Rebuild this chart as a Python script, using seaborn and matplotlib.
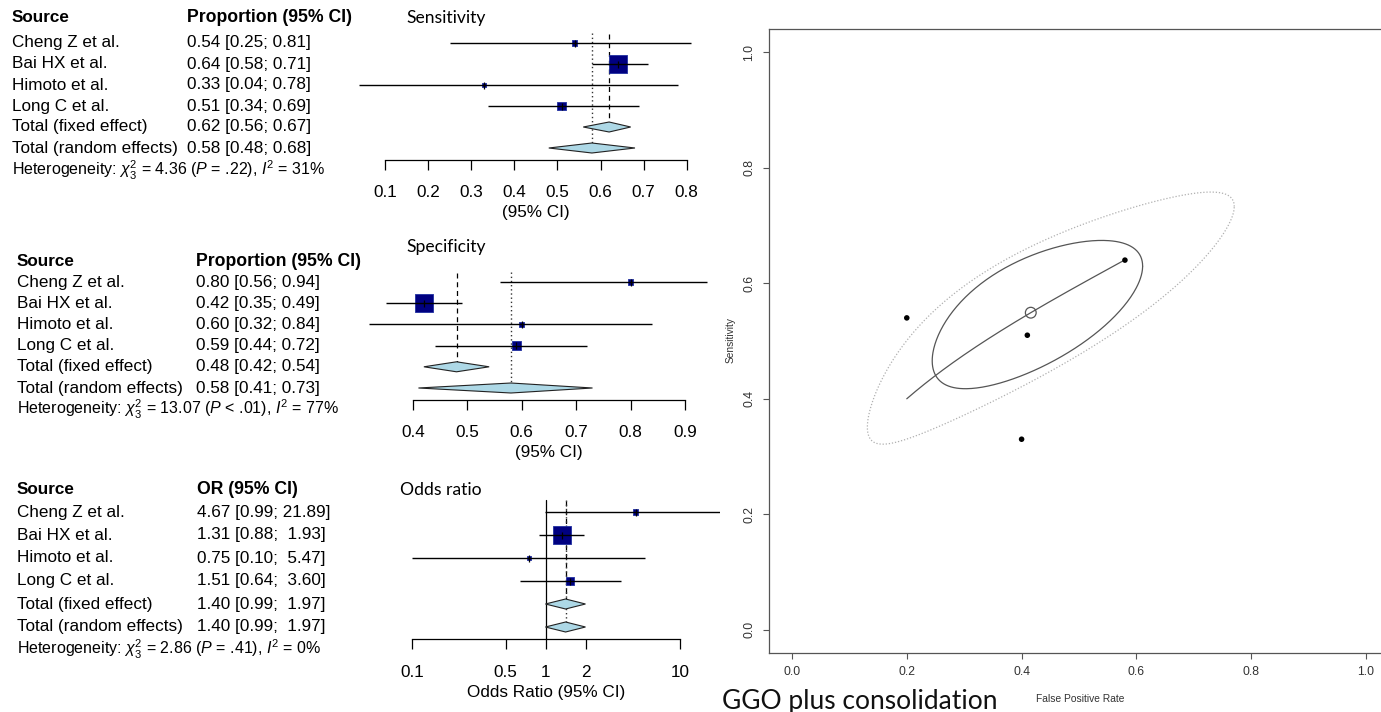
import numpy as np
import pandas as pd
import matplotlib
matplotlib.use("Agg")
import matplotlib.pyplot as plt
import seaborn as sns
from matplotlib.patches import Polygon
from matplotlib.transforms import Affine2D

sns.set_theme(style="white")
plt.rcParams['font.family'] = ['Liberation Sans', 'DejaVu Sans']
plt.rcParams['mathtext.fontset'] = 'custom'
plt.rcParams['mathtext.rm'] = 'Liberation Sans'
plt.rcParams['mathtext.it'] = 'Liberation Sans:italic'
plt.rcParams['text.color'] = 'black'
plt.rcParams['axes.labelcolor'] = 'black'
plt.rcParams['xtick.color'] = 'black'
plt.rcParams['ytick.color'] = 'black'

# ---------------- data ----------------
studies = ["Cheng Z et al.", "Bai HX et al.", "Himoto et al.", "Long C et al."]

sens_est = [0.54, 0.64, 0.33, 0.51]
sens_lo = [0.25, 0.58, 0.04, 0.34]
sens_hi = [0.81, 0.71, 0.78, 0.69]
sens_w = [7, 73, 4, 16]
sens_fixed = [0.62, 0.56, 0.67]
sens_random = [0.58, 0.48, 0.68]
sens_het = r"Heterogeneity: $\chi^2_3$ = 4.36 ($P$ = .22), $I^2$ = 31%"
sens_ticks = [0.1, 0.2, 0.3, 0.4, 0.5, 0.6, 0.7, 0.8]

spec_est = [0.80, 0.42, 0.60, 0.59]
spec_lo = [0.56, 0.35, 0.32, 0.44]
spec_hi = [0.94, 0.49, 0.84, 0.72]
spec_w = [6, 72, 6, 18]
spec_fixed = [0.48, 0.42, 0.54]
spec_random = [0.58, 0.41, 0.73]
spec_het = r"Heterogeneity: $\chi^2_3$ = 13.07 ($P$ < .01), $I^2$ = 77%"
spec_ticks = [0.4, 0.5, 0.6, 0.7, 0.8, 0.9]

or_est = [4.67, 1.31, 0.75, 1.51]
or_lo = [0.99, 0.88, 0.10, 0.64]
or_hi = [21.89, 1.93, 5.47, 3.60]
or_w = [6, 76, 4, 14]
or_fixed = [1.40, 0.99, 1.97]
or_random = [1.40, 0.99, 1.97]
or_het = r"Heterogeneity: $\chi^2_3$ = 2.86 ($P$ = .41), $I^2$ = 0%"
or_ticks = [0.1, 0.5, 1, 2, 10]
or_ticklabels = ["0.1", "0.5", "1", "2", "10"]

# SROC (bivariate) data
fpr = [1 - s for s in spec_est]
sroc_sens = sens_est
summary_fpr = 0.416
summary_sens = 0.549
sroc_slope = 0.575            # slope of SROC line in logit space
conf_sd = [0.79, 0.53, 0.63]  # logit half-extent FPR, sens, correlation
pred_sd = [1.55, 0.944, 0.86]

# ---------------- figure ----------------
W, H = 1381, 712
fig = plt.figure(figsize=(W / 100, H / 100), dpi=100)
pix = Affine2D().scale(1 / W, -1 / H).translate(0, 1) + fig.transFigure

TABLE_FS = 12.3
HET_FS = 11.5
TITLE_FONT = ['Lato', 'DejaVu Sans']

NAVY = '#000080'


def ptext(x, y, s, **kw):
    kw.setdefault('va', 'center')
    kw.setdefault('ha', 'left')
    kw.setdefault('color', 'black')
    return fig.text(x, y, s, transform=pix, **kw)


def forest(est, lo, hi, w, fixed, random, het, ticks, ticklabels, header2,
           title, xlabel, src_x, ci_x, y_head, y0, dy, y_het, y_title, title_x,
           y_axis, y_top, p0, v0, k, log, label_pad, xlabel_y, ci_width, show_null):
    # table text
    ptext(src_x, y_head, "Source", fontsize=TABLE_FS, fontweight='bold')
    ptext(ci_x, y_head, header2, fontsize=TABLE_FS + 0.4, fontweight='bold')
    rows = [y0 + i * dy for i in range(6)]
    labels = studies + ["Total (fixed effect)", "Total (random effects)"]
    vals = list(zip(est, lo, hi)) + [tuple(fixed), tuple(random)]
    for yy, lab, (e, l, h) in zip(rows, labels, vals):
        ptext(src_x, yy, lab, fontsize=TABLE_FS)
        ptext(ci_x, yy, f"{e:.2f} [{l:.2f}; {h:{ci_width}.2f}]", fontsize=TABLE_FS)
    ptext(src_x, y_het, het, fontsize=HET_FS)
    ptext(title_x, y_title, title, fontsize=12.6, family=TITLE_FONT)

    xL, xR = 350, 720
    ax = fig.add_axes([xL / W, 1 - y_axis / H, (xR - xL) / W, (y_axis - y_top) / H])
    if log:
        lv = np.log10(v0)
        ax.set_xscale('log')
        ax.set_xlim(10 ** (lv + (xL - p0) / k), 10 ** (lv + (xR - p0) / k))
    else:
        ax.set_xlim(v0 + (xL - p0) / k, v0 + (xR - p0) / k)
    ax.set_ylim(y_axis, y_top)
    ax.patch.set_alpha(0)
    for sname in ['top', 'right', 'left']:
        ax.spines[sname].set_visible(False)
    ax.spines['bottom'].set_bounds(ticks[0], ticks[-1])
    ax.spines['bottom'].set_color('black')
    ax.spines['bottom'].set_linewidth(0.9)
    ax.set_xticks(ticks)
    ax.set_xticklabels(ticklabels)
    ax.minorticks_off()
    ax.tick_params(axis='x', direction='out', length=7.2, width=0.9, color='black',
                   bottom=True, labelsize=TABLE_FS, pad=label_pad, labelcolor='black')
    ax.set_yticks([])

    # reference lines
    if show_null:
        ax.plot([1, 1], [y_top + 3, y_axis], color='black', lw=0.9, zorder=1)
    ax.plot([fixed[0]] * 2, [y_top + 4, rows[4] - 5], color='black', lw=0.9,
            ls=(0, (4, 3)), zorder=1)
    ax.plot([random[0]] * 2, [y_top + 3, rows[5] - 2], color='#333333', lw=1.0,
            ls=(0, (1, 2)), zorder=1)

    # study squares (area proportional to weight)
    df = pd.DataFrame({'est': est, 'y': rows[:4], 'w': w})
    smax = (18 * 0.72) ** 2
    sns.scatterplot(data=df, x='est', y='y', size='w', sizes=(0, smax),
                    size_norm=(0, max(w) * 0.97), marker='s', color=NAVY,
                    edgecolor='#2030a0', linewidth=0.6, legend=False, ax=ax, zorder=2)
    ax.hlines(rows[:4], lo, hi, color='black', lw=1.0, zorder=3)
    ax.vlines(est, [r - 3.5 for r in rows[:4]], [r + 3.5 for r in rows[:4]],
              color='black', lw=0.9, zorder=3)

    # diamonds
    for (e, l, h), yy in zip([fixed, random], rows[4:]):
        ax.add_patch(Polygon([(l, yy), (e, yy - 5), (h, yy), (e, yy + 5)],
                             closed=True, facecolor='lightblue', edgecolor='#222222',
                             lw=0.8, zorder=2))
    ax.set_xlabel('')
    ax.set_ylabel('')
    # x label centered under the tick range
    if log:
        xc = 10 ** ((np.log10(ticks[0]) + np.log10(ticks[-1])) / 2)
    else:
        xc = (ticks[0] + ticks[-1]) / 2
    ax.text(xc, xlabel_y, xlabel, ha='center', va='center', fontsize=TABLE_FS,
            clip_on=False, color='black')
    return ax


forest(sens_est, sens_lo, sens_hi, sens_w, sens_fixed, sens_random, sens_het,
       sens_ticks, [f"{t:.1f}" for t in sens_ticks], "Proportion (95% CI)",
       "Sensitivity", "(95% CI)", 12, 187, 18, 43, 21, 170, 18, 406,
       160, 30, 385, 0.1, 431, False, 11, 212, '', False)

forest(spec_est, spec_lo, spec_hi, spec_w, spec_fixed, spec_random, spec_het,
       spec_ticks, [f"{t:.1f}" for t in spec_ticks], "Proportion (95% CI)",
       "Specificity", "(95% CI)", 17, 196, 261, 282, 21.2, 409, 247, 406,
       400, 269, 413, 0.4, 544, False, 10.5, 453, '', False)

forest(or_est, or_lo, or_hi, or_w, or_fixed, or_random, or_het,
       or_ticks, or_ticklabels, "OR (95% CI)",
       "Odds ratio", "Odds Ratio (95% CI)", 17, 197, 490, 512, 23, 649, 490, 400,
       639, 497, 546, 1.0, 134, True, 11.5, 693, '5', True)

# ---------------- SROC plot ----------------
ax = fig.add_axes([769 / W, 1 - 653 / H, (1389 - 769) / W, (653 - 29) / H])
ax.set_xlim(-0.04, 1.04)
ax.set_ylim(-0.04, 1.04)
for sname, sp in ax.spines.items():
    sp.set_color('#555555')
    sp.set_linewidth(0.9)
    sp.set_visible(True)
tk = [0.0, 0.2, 0.4, 0.6, 0.8, 1.0]
ax.set_xticks(tk)
ax.set_yticks(tk)
ax.set_xticklabels([f"{t:.1f}" for t in tk])
ax.set_yticklabels([f"{t:.1f}" for t in tk], rotation=90, va='center')
ax.tick_params(axis='both', direction='out', length=4.3, width=0.8, color='#555555',
               labelsize=8.8, labelcolor='#333333', bottom=True, left=True)
ax.tick_params(axis='x', pad=5)
ax.tick_params(axis='y', pad=5.4)
ax.grid(False)


def expit(z):
    return 1 / (1 + np.exp(-z))


def logit(p):
    return np.log(p / (1 - p))


cx, cy = logit(summary_fpr), logit(summary_sens)
t = np.linspace(0, 2 * np.pi, 400)
for (sx, sy, rho), col, ls in [(pred_sd, '#b0b0b0', (0, (1, 1.5))),
                               (conf_sd, '#555555', '-')]:
    ex = cx + sx * np.cos(t)
    ey = cy + sy * (rho * np.cos(t) + np.sqrt(1 - rho ** 2) * np.sin(t))
    ax.plot(expit(ex), expit(ey), color=col, lw=0.9, ls=ls)

xs = np.linspace(min(fpr), max(fpr), 200)
ys = expit(cy + sroc_slope * (logit(xs) - cx))
ax.plot(xs, ys, color='#555555', lw=0.9)

sns.scatterplot(x=fpr, y=sroc_sens, color='black', s=16, edgecolor='none', ax=ax, zorder=4)
ax.scatter([summary_fpr], [summary_sens], s=60, facecolor='none', edgecolor='#555555',
           lw=0.9, zorder=4)
ax.set_xlabel('')
ax.set_ylabel('')

ptext(731, 340, "Sensitivity", fontsize=7.3, rotation=90, ha='center', color='#333333')
ptext(1080, 699, "False Positive Rate", fontsize=7.4, ha='center', color='#333333')
ptext(722, 709, "GGO plus consolidation", fontsize=19, va='baseline',
      family=['Lato', 'DejaVu Sans'], color='#111111')

fig.savefig("out.png", dpi=100)
